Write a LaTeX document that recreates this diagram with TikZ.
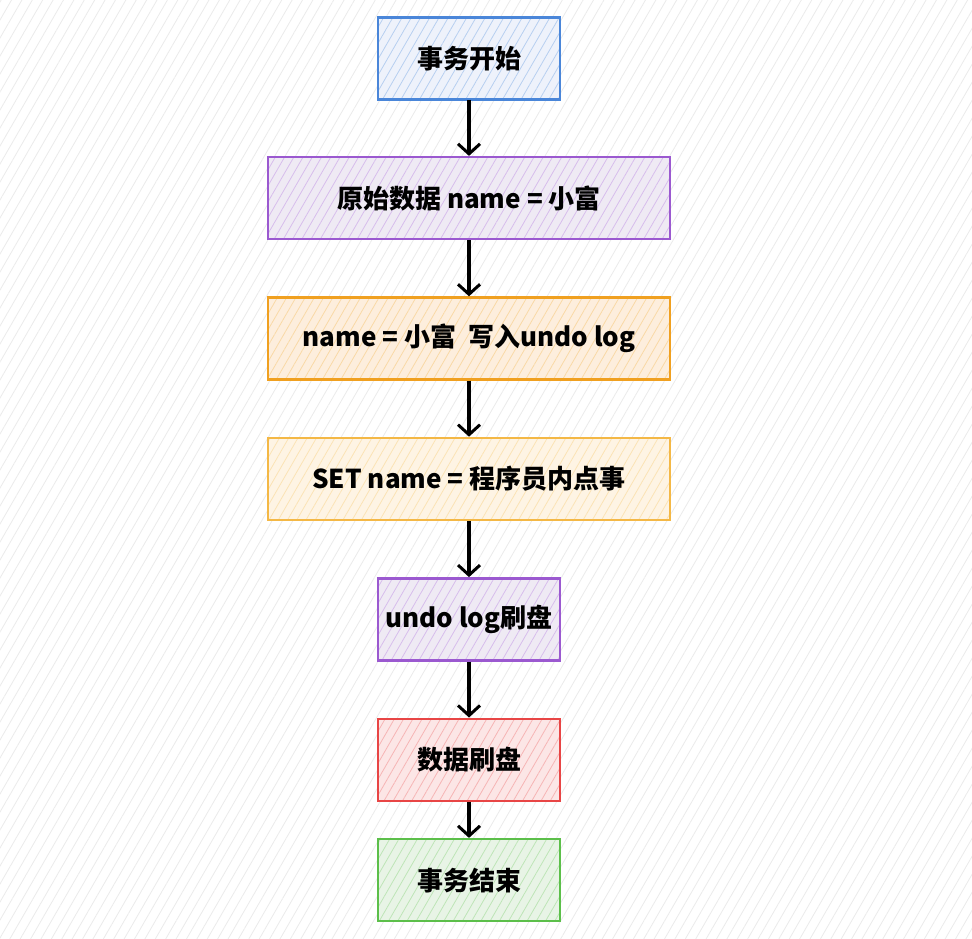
\documentclass[tikz,border=0pt]{standalone}
\usepackage{fontspec}
\setmainfont{Noto Sans CJK SC}
\usetikzlibrary{positioning,patterns.meta,arrows.meta}

\definecolor{cblue}{HTML}{4A86D9}
\definecolor{cbluefill}{HTML}{EEF2FB}
\definecolor{cpurple}{HTML}{9B59D0}
\definecolor{cpurplefill}{HTML}{EFEAF4}
\definecolor{corange}{HTML}{F0A020}
\definecolor{corangefill}{HTML}{FDEEDD}
\definecolor{cyellow}{HTML}{F4B846}
\definecolor{cyellowfill}{HTML}{FEF4E4}
\definecolor{cred}{HTML}{E84545}
\definecolor{credfill}{HTML}{FCE6E6}
\definecolor{cgreen}{HTML}{5CBF4A}
\definecolor{cgreenfill}{HTML}{E8F4E6}

\begin{document}
\begin{tikzpicture}[x=1pt, y=-1pt,
        stepbox/.style 2 args={draw=#1, line width=2.4pt, preaction={fill=#2},
          pattern={Lines[angle=60, distance=8pt, line width=0.8pt]}, pattern color=#1!40,
          minimum height=82pt, inner sep=0pt,
          font=\fontsize{26}{30}\selectfont\bfseries},
        flow/.style={line width=3.6pt, -{Straight Barb[length=10pt, width=22pt, line width=3pt]}}]
        % background
        \useasboundingbox (0,0) rectangle (972,938);
        \fill[white] (0,0) rectangle (972,938);
        \path[pattern={Lines[angle=60, distance=9pt, line width=0.8pt]}, pattern color=gray!16]
              (0,0) rectangle (972,938);

        \node[stepbox={cblue}{cbluefill}, minimum width=182pt] (begin) at (469,58.5) {事务开始};
        \node[stepbox={cpurple}{cpurplefill}, minimum width=402pt, below=56pt of begin] (orig)
              {原始数据 name = 小富};
        \node[stepbox={corange}{corangefill}, minimum width=402pt, below=56pt of orig] (undo)
              {name = 小富~~写入undo log};
        \node[stepbox={cyellow}{cyellowfill}, minimum width=402pt, below=56pt of undo] (set)
              {SET name = 程序员内点事};
        \node[stepbox={cpurple}{cpurplefill}, minimum width=182pt, below=56pt of set] (flushundo)
              {undo log刷盘};
        \node[stepbox={cred}{credfill}, minimum width=182pt, below=56pt of flushundo] (flushdata)
              {数据刷盘};
        \node[stepbox={cgreen}{cgreenfill}, minimum width=182pt, below=36pt of flushdata] (end)
              {事务结束};

        \draw[flow] (begin) -- (orig);
        \draw[flow] (orig) -- (undo);
        \draw[flow] (undo) -- (set);
        \draw[flow] (set) -- (flushundo);
        \draw[flow] (flushundo) -- (flushdata);
        \draw[flow] (flushdata) -- (end);
    \end{tikzpicture}
\end{document}
